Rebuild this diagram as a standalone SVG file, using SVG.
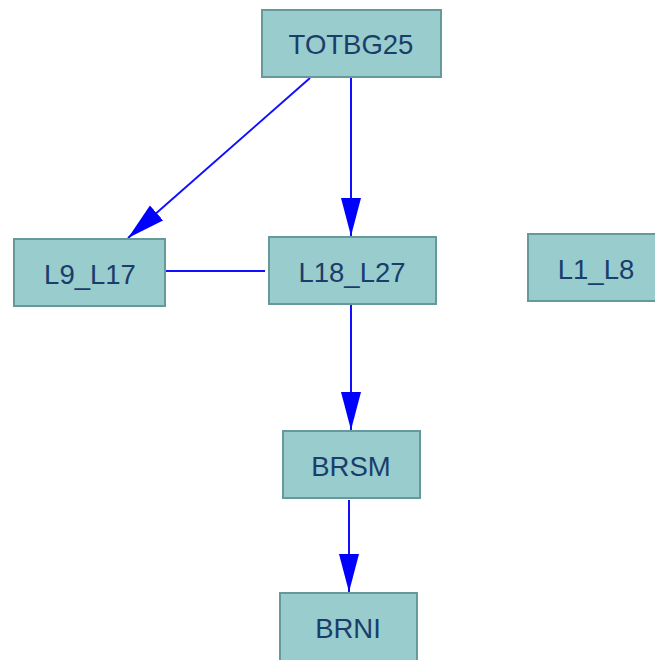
<svg xmlns="http://www.w3.org/2000/svg" width="655" height="660" viewBox="0 0 655 660">
<style>
.node rect{fill:#99CCCC;stroke:#669999;stroke-width:2}
.node text{font-family:"Liberation Sans",Arial,sans-serif;font-size:27.5px;fill:#1a3d6b;text-anchor:middle}
.edge{stroke:#1010ff;stroke-width:2;fill:none}
</style>
<defs>
<marker id="arr" viewBox="0 0 38 22" refX="38" refY="11" markerWidth="38" markerHeight="22" markerUnits="userSpaceOnUse" orient="auto">
<path d="M0,1 L38,11 L0,21 z" fill="#0000ff"/>
</marker>
</defs>
<rect width="655" height="660" fill="#ffffff"/>
<g id="connectors">
<line class="edge" x1="310" y1="78" x2="128" y2="238" marker-end="url(#arr)"/>
<line class="edge" x1="351" y1="78" x2="351" y2="236" marker-end="url(#arr)"/>
<line class="edge" x1="166" y1="271" x2="265" y2="271"/>
<line class="edge" x1="351" y1="305" x2="351" y2="430" marker-end="url(#arr)"/>
<line class="edge" x1="349" y1="500" x2="349" y2="592" marker-end="url(#arr)"/>
</g>
<g id="TOTBG25" class="node"><rect x="262" y="10" width="179" height="67"/><text x="351" y="54">TOTBG25</text></g>
<g id="L9_L17" class="node"><rect x="14" y="239" width="151" height="67"/><text x="90" y="284">L9_L17</text></g>
<g id="L18_L27" class="node"><rect x="269" y="237" width="167" height="67"/><text x="352" y="282">L18_L27</text></g>
<g id="L1_L8" class="node"><rect x="528" y="234" width="130" height="67"/><text x="596" y="279">L1_L8</text></g>
<g id="BRSM" class="node"><rect x="283" y="431" width="137" height="67"/><text x="351" y="476">BRSM</text></g>
<g id="BRNI" class="node"><rect x="280" y="593" width="137" height="70"/><text x="348" y="638">BRNI</text></g>
</svg>
